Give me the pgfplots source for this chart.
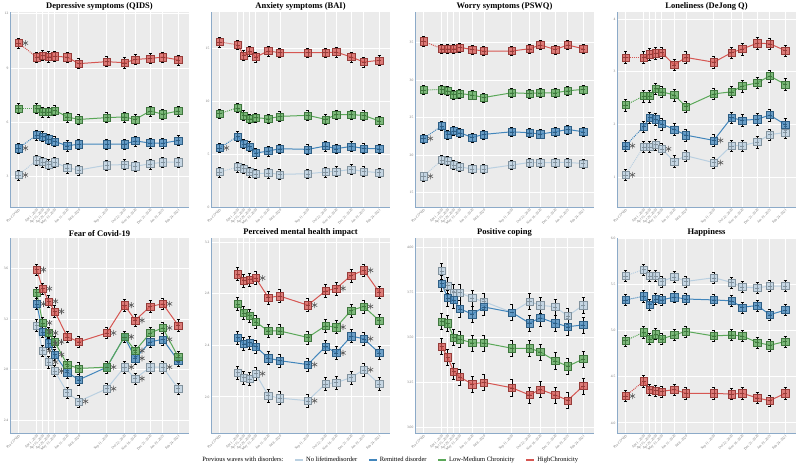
\documentclass[border=0pt]{standalone}
\usepackage{fontspec}
\setmainfont{Liberation Serif}
\usepackage{pgfplots}
\usepackage{pgfplotstable}
\pgfplotsset{compat=1.18}

\definecolor{cLight}{RGB}{186,208,225}
\definecolor{cBlue}{RGB}{66,134,188}
\definecolor{cGreen}{RGB}{90,168,88}
\definecolor{cRed}{RGB}{214,86,82}
\definecolor{panelbg}{RGB}{235,235,235}
\definecolor{axisblue}{RGB}{140,170,200}

% square marker with a small cross in it
\pgfdeclareplotmark{sqp}{%
  \pgfpathrectangle{\pgfpoint{-\pgfplotmarksize}{-\pgfplotmarksize}}{\pgfpoint{2\pgfplotmarksize}{2\pgfplotmarksize}}%
  \pgfusepathqfillstroke
  \pgfpathmoveto{\pgfpoint{-0.6\pgfplotmarksize}{0pt}}%
  \pgfpathlineto{\pgfpoint{0.6\pgfplotmarksize}{0pt}}%
  \pgfusepathqstroke
}

% x = days from Apr 1, 2020 (Pre-COVID put at -42)
\pgfplotstableread{
x light blue green red
-42 3.07 4.56 6.75 10.38
0 3.89 5.29 6.75 9.60
14 3.80 5.20 6.56 9.69
28 3.65 5.05 6.56 9.62
42 3.78 4.93 6.65 9.65
71 3.47 4.69 6.29 9.60
98 3.35 4.78 6.15 9.24
163 3.62 4.78 6.25 9.35
204 3.65 4.78 6.29 9.29
229 3.56 4.96 6.15 9.47
264 3.69 4.84 6.62 9.53
293 3.78 4.84 6.44 9.60
329 3.78 4.98 6.62 9.45
}\qids

\pgfplotstableread{
x light blue green red
-42 3.30 5.57 8.81 15.57
0 3.77 6.67 9.37 15.31
14 3.62 5.97 8.65 14.31
28 3.30 5.72 8.33 14.72
42 3.14 5.09 8.43 14.15
71 3.21 5.28 8.33 14.72
98 3.08 5.50 8.55 14.56
163 3.14 5.44 8.65 14.56
204 3.30 5.75 8.27 14.56
229 3.36 5.50 8.71 14.62
264 3.55 5.72 8.71 14.15
293 3.36 5.53 8.65 13.68
329 3.24 5.50 8.11 13.84
}\bai

\pgfplotstableread{
x light blue green red
-42 17.20 22.24 28.69 35.20
0 19.36 23.90 28.78 34.20
14 19.27 22.78 28.60 34.20
28 18.69 23.27 28.10 34.20
42 18.47 23.00 28.24 34.38
71 18.16 22.38 28.02 34.10
98 18.16 22.78 27.70 33.90
163 18.69 23.13 28.33 33.90
204 19.04 23.00 28.24 34.20
229 19.00 22.82 28.33 34.70
264 19.04 23.13 28.33 34.10
293 19.04 23.44 28.60 34.70
329 18.90 23.13 28.78 34.20
}\pswq

\pgfplotstableread{
x light blue green red
-42 1.05 1.60 2.37 3.27
0 1.58 1.96 2.54 3.27
14 1.58 2.13 2.54 3.33
28 1.62 2.10 2.68 3.35
42 1.54 2.01 2.62 3.36
71 1.30 1.91 2.56 3.13
98 1.41 1.80 2.34 3.27
163 1.28 1.70 2.58 3.18
204 1.60 2.13 2.62 3.36
229 1.60 2.08 2.73 3.43
264 1.67 2.10 2.79 3.54
293 1.81 2.18 2.92 3.53
329 1.85 2.00 2.76 3.40
}\lone

\pgfplotstableread{
x light blue green red
0 3.15 3.32 3.41 3.59
14 2.95 3.10 3.17 3.44
28 2.86 3.01 3.09 3.34
42 2.79 2.92 3.02 3.26
71 2.62 2.78 2.84 3.06
98 2.55 2.72 2.81 3.02
163 2.65 2.82 2.82 3.09
204 2.82 3.06 3.06 3.31
229 2.73 2.89 2.95 3.19
264 2.82 3.02 3.09 3.30
293 2.82 3.04 3.13 3.32
329 2.65 2.87 2.90 3.15
}\fear

\pgfplotstableread{
x light blue green red
0 2.19 2.46 2.72 2.95
14 2.15 2.41 2.65 2.90
28 2.14 2.42 2.63 2.91
42 2.18 2.39 2.58 2.92
71 2.01 2.30 2.51 2.77
98 1.99 2.28 2.51 2.78
163 1.97 2.25 2.46 2.71
204 2.10 2.39 2.55 2.82
229 2.11 2.34 2.54 2.84
264 2.15 2.47 2.67 2.94
293 2.21 2.45 2.70 2.98
329 2.10 2.34 2.59 2.81
}\pmh

\pgfplotstableread{
x light blue green red
0 3.87 3.80 3.59 3.45
14 3.79 3.72 3.58 3.39
28 3.75 3.71 3.50 3.31
42 3.75 3.66 3.49 3.28
71 3.72 3.63 3.47 3.24
98 3.70 3.67 3.47 3.25
163 3.64 3.64 3.44 3.22
204 3.70 3.58 3.44 3.18
229 3.68 3.61 3.42 3.21
264 3.67 3.58 3.37 3.18
293 3.62 3.56 3.34 3.15
329 3.68 3.57 3.38 3.23
}\coping

\pgfplotstableread{
x light blue green red
-42 5.59 5.33 4.89 4.29
0 5.66 5.37 4.98 4.45
14 5.59 5.28 4.91 4.36
28 5.59 5.34 4.96 4.35
42 5.53 5.33 4.91 4.34
71 5.58 5.36 4.95 4.36
98 5.53 5.34 4.99 4.32
163 5.57 5.33 4.94 4.32
204 5.52 5.32 4.95 4.31
229 5.47 5.25 4.94 4.32
264 5.46 5.27 4.87 4.27
293 5.48 5.17 4.84 4.24
329 5.48 5.22 4.88 4.32
}\happy

% #1 table, #2 column, #3 colour, #4 half error bar
\newcommand\series[4]{%
  \addplot[#3, line width=1pt, densely dotted, forget plot, restrict x to domain=-100:0] table[x=x,y=#2]{#1};
  \addplot[#3, line width=1pt, forget plot, restrict x to domain=0:400] table[x=x,y=#2]{#1};
  \addplot[only marks, mark=sqp, mark size=3.6pt, forget plot,
    mark options={draw=#3!70!black, fill=#3, fill opacity=0.75, line width=0.4pt},
    error bars/.cd, y dir=both, y fixed=#4,
    error bar style={black, line width=0.5pt},
    error mark options={rotate=90, mark size=1.6pt, black, line width=0.5pt}]
    table[x=x,y=#2]{#1};
}
\newcommand\stars[1]{%
  \addplot[only marks, mark=asterisk, mark size=3pt, draw=black!65, forget plot,
    mark options={xshift=6.8pt, line width=0.6pt}] coordinates {#1};
}

\pgfplotsset{
  keyline/.style={#1, line width=1.6pt,
    legend image code/.code={\draw[##1] (0pt,0pt) -- (8pt,0pt);}},
  panel/.style={
    scale only axis, width=179pt, height=195pt, anchor=south west,
    xmin=-62, xmax=354,
    xtick={-42,0,14,28,42,71,98,163,204,229,264,293,329},
    xticklabels={Pre-COVID,{Apr 1, 2020},{Apr 15, 2020},{Apr 29, 2020},{May 13, 2020},{Jun 11, 2020},{Jul 8, 2020},{Sep 11, 2020},{Oct 22, 2020},{Nov 16, 2020},{Dec 21, 2020},{Jan 19, 2021},{Feb 24, 2021}},
    xticklabel style={rotate=45, anchor=north east, font=\fontsize{3.6}{4}\selectfont, text=black!55, inner sep=1pt},
    yticklabel style={font=\fontsize{3.6}{4}\selectfont, text=black!55, inner sep=1.5pt},
    /pgf/number format/assume math mode=true,
    axis background/.style={fill=panelbg},
    grid=major, grid style={white, line width=0.7pt},
    axis lines*=left, axis line style={-, draw=axisblue, line width=0.9pt},
    major tick length=0pt,
    title style={font=\bfseries\fontsize{8.5}{10}\selectfont, inner sep=0pt, yshift=-4.8pt},
    clip=false,
  },
}

\begin{document}
\begin{tikzpicture}
\path[use as bounding box] (0pt,0pt) rectangle (797pt,467pt);

% ---------- row 1 ----------
\begin{axis}[panel, at={(10pt,260pt)}, title={Depressive symptoms (QIDS)},
  ymin=1.3, ymax=12.1, ytick={3,6,9,12}]
\series{\qids}{light}{cLight}{0.28}
\series{\qids}{blue}{cBlue}{0.28}
\series{\qids}{green}{cGreen}{0.28}
\series{\qids}{red}{cRed}{0.28}
\stars{(-42,10.38) (-42,4.56) (-42,3.07)}
\end{axis}

\begin{axis}[panel, at={(211pt,260pt)}, title={Anxiety symptoms (BAI)},
  ymin=0, ymax=18.4, ytick={0,5,10,15}]
\series{\bai}{light}{cLight}{0.45}
\series{\bai}{blue}{cBlue}{0.45}
\series{\bai}{green}{cGreen}{0.45}
\series{\bai}{red}{cRed}{0.45}
\stars{(-42,5.57)}
\end{axis}

\begin{axis}[panel, at={(415pt,260pt)}, title={Worry symptoms (PSWQ)},
  ymin=13.1, ymax=39.1, ytick={15,20,25,30,35}]
\series{\pswq}{light}{cLight}{0.6}
\series{\pswq}{blue}{cBlue}{0.6}
\series{\pswq}{green}{cGreen}{0.6}
\series{\pswq}{red}{cRed}{0.6}
\stars{(-42,22.24) (-42,17.2)}
\end{axis}

\begin{axis}[panel, at={(617pt,260pt)}, title={Loneliness (DeJong Q)},
  ymin=0.44, ymax=4.13, ytick={1,2,3,4}]
\series{\lone}{light}{cLight}{0.11}
\series{\lone}{blue}{cBlue}{0.11}
\series{\lone}{green}{cGreen}{0.11}
\series{\lone}{red}{cRed}{0.11}
\stars{(-42,1.6) (-42,1.05) (42,1.54) (163,1.7) (163,1.28)}
\end{axis}

% ---------- row 2 ----------
\begin{axis}[panel, at={(10pt,34pt)}, title={Fear of Covid-19},
  ymin=2.3, ymax=3.84, ytick={2.4,2.8,3.2,3.6},
  yticklabel style={/pgf/number format/.cd, fixed, fixed zerofill, precision=1}]
\series{\fear}{light}{cLight}{0.045}
\series{\fear}{blue}{cBlue}{0.045}
\series{\fear}{green}{cGreen}{0.045}
\series{\fear}{red}{cRed}{0.045}
\stars{(0,3.59) (14,3.44) (28,3.34) (42,3.26) (163,3.09) (204,3.31) (229,3.19) (293,3.32)
  (14,3.17) (28,3.09) (42,3.02) (204,3.06) (229,2.95) (293,3.13)
  (0,3.32) (14,3.10) (28,3.01) (42,2.92) (163,2.82) (229,2.89) (293,3.04)
  (14,2.95) (28,2.86) (42,2.79) (98,2.55) (163,2.65) (204,2.82) (229,2.73) (293,2.82)}
\end{axis}

\begin{axis}[panel, at={(211pt,34pt)}, title={Perceived mental health impact},
  ymin=1.72, ymax=3.23, ytick={2.0,2.4,2.8,3.2},
  yticklabel style={/pgf/number format/.cd, fixed, fixed zerofill, precision=1},
  legend style={at={(axis description cs:-0.06,-0.138)}, anchor=west, draw=none, fill=none,
    font=\fontsize{6.5}{7}\selectfont, legend columns=-1,
    /tikz/every even column/.append style={column sep=9pt}, inner sep=0pt}]
\series{\pmh}{light}{cLight}{0.05}
\series{\pmh}{blue}{cBlue}{0.05}
\series{\pmh}{green}{cGreen}{0.05}
\series{\pmh}{red}{cRed}{0.05}
\stars{(42,2.92) (163,2.71) (229,2.84) (293,2.98)
  (229,2.54) (293,2.70)
  (163,2.25) (229,2.34) (293,2.45)
  (42,2.18) (163,1.97) (293,2.21)}
\addlegendimage{empty legend}\addlegendentry{Previous waves with disorders:}
\addlegendimage{keyline=cLight}\addlegendentry{No lifetimedisorder}
\addlegendimage{keyline=cBlue}\addlegendentry{Remitted disorder}
\addlegendimage{keyline=cGreen}\addlegendentry{Low-Medium Chronicity}
\addlegendimage{keyline=cRed}\addlegendentry{HighChronicity}
\end{axis}

\begin{axis}[panel, at={(415pt,34pt)}, title={Positive coping},
  ymin=2.968, ymax=4.054, ytick={3,3.25,3.5,3.75,4},
  yticklabel style={/pgf/number format/.cd, fixed, fixed zerofill, precision=2}]
\series{\coping}{light}{cLight}{0.045}
\series{\coping}{blue}{cBlue}{0.045}
\series{\coping}{green}{cGreen}{0.045}
\series{\coping}{red}{cRed}{0.045}
\end{axis}

\begin{axis}[panel, at={(617pt,34pt)}, title={Happiness},
  ymin=3.89, ymax=6.0, ytick={4,4.5,5,5.5,6},
  yticklabel style={/pgf/number format/.cd, fixed, fixed zerofill, precision=1}]
\series{\happy}{light}{cLight}{0.06}
\series{\happy}{blue}{cBlue}{0.06}
\series{\happy}{green}{cGreen}{0.06}
\series{\happy}{red}{cRed}{0.06}
\stars{(-42,4.29)}
\end{axis}
\end{tikzpicture}
\end{document}
